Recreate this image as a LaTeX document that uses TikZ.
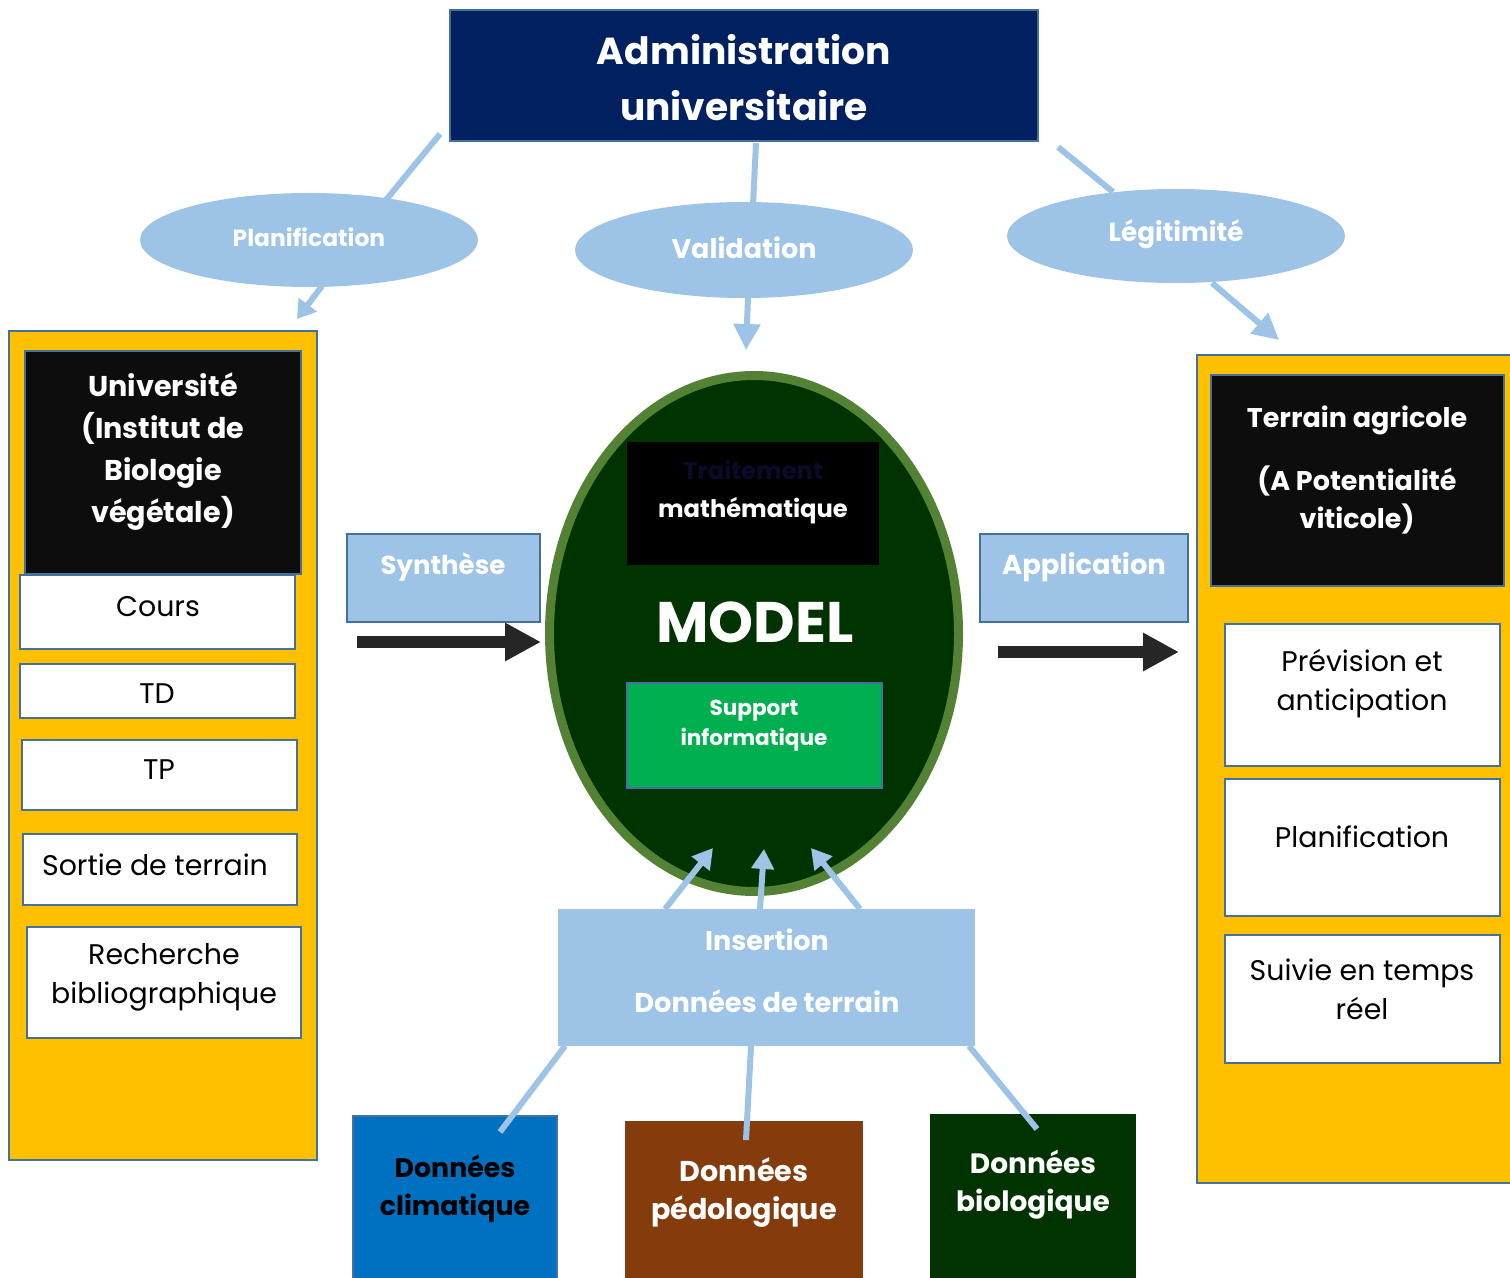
\documentclass[tikz,border=0pt]{standalone}
\usepackage{fontspec}
\setmainfont{Poppins}
\usetikzlibrary{arrows.meta,shapes.geometric}
\definecolor{adminblue}{HTML}{002060}
\definecolor{paleblue}{HTML}{9DC3E6}
\definecolor{framecol}{HTML}{41719C}
\definecolor{panelyel}{HTML}{FFC000}
\definecolor{deepgreen}{HTML}{003300}
\definecolor{ringgreen}{HTML}{548235}
\definecolor{suppgreen}{HTML}{00B050}
\definecolor{climblue}{HTML}{0070C0}
\definecolor{pedobrown}{HTML}{843C0C}
\definecolor{nearblack}{HTML}{0D0D0D}
\definecolor{arrowgrey}{HTML}{262626}
\definecolor{hiddennavy}{HTML}{0A0A2A}
\begin{document}
\begin{tikzpicture}[x=0.5pt,y=0.5pt,yscale=-1,
	sized/.style 2 args={minimum width=#1*0.5pt,minimum height=#2*0.5pt,inner sep=0pt},
	rbox/.style={rectangle,draw=framecol,line width=1pt},
	oval/.style={ellipse,fill=paleblue,inner sep=0pt},
	wbold/.style={text=white,font=\bfseries\fontsize{#1}{#1}\selectfont,align=center,inner sep=0pt},
	plain/.style={text=black,font=\fontsize{14.2}{19.5}\selectfont,align=center,inner sep=0pt},
	link/.style={draw=paleblue,line width=3pt},
	linkarrow/.style={link,-{Triangle[width=13pt,length=13pt]}},
	bigarrow/.style={draw=arrowgrey,line width=6pt,-{Triangle[width=18pt,length=18pt]}}]
	\useasboundingbox (0,0) rectangle (1510,1278);

	%Shape: Rectangle [id:admin]
	\node[rbox,fill=adminblue,sized={588}{131}] (admin) at (744,75.5) {};
	% Text Node
	\node[wbold=18.8,font=\bfseries\fontsize{18.8}{28}\selectfont] (admintxt) at (744,78) {Administration\\universitaire};

	%Straight Lines [id:top links]
	\coordinate (pl-a) at (440,134);
	\coordinate (pl-b) at (386,200);
	\coordinate (va-a) at (756,143);
	\coordinate (va-b) at (753,205);
	\coordinate (le-a) at (1058,147);
	\coordinate (le-b) at (1113,192);
	\draw[link] (pl-a) -- (pl-b);
	\draw[link] (va-a) -- (va-b);
	\draw[link] (le-a) -- (le-b);

	%Shape: Ellipse [id:plan]
	\node[oval,sized={338}{94}] (plan) at (309,240) {};
	%Shape: Ellipse [id:valid]
	\node[oval,sized={338}{96}] (valid) at (744,250) {};
	%Shape: Ellipse [id:legit]
	\node[oval,sized={338}{94}] (legit) at (1176,236) {};
	% Text Node
	\node[wbold=11.7] (plantxt) at (309,237) {Planification};
	% Text Node
	\node[wbold=13.5] (validtxt) at (744,248) {Validation};
	% Text Node
	\node[wbold=13.1] (legittxt) at (1176,234) {Légitimité};

	%Shape: Rectangle [id:left panel]
	\node[rbox,fill=panelyel,sized={308}{829}] (leftpanel) at (163,745.5) {};
	\node[rbox,fill=nearblack,sized={276}{223}] (univ) at (163,462.5) {};
	\node[rbox,fill=white,sized={275}{74}] (cours) at (157.5,612) {};
	\node[rbox,fill=white,sized={275}{54}] (td) at (157.5,691) {};
	\node[rbox,fill=white,sized={275}{70}] (tp) at (159.5,775) {};
	\node[rbox,fill=white,sized={274}{71}] (sortie) at (160,869.5) {};
	\node[rbox,fill=white,sized={274}{111}] (biblio) at (164,982.5) {};
	% Text Node
	\node[wbold=14.3,font=\bfseries\fontsize{14.3}{21}\selectfont] (univtxt) at (163,452) {Université\\(Institut de\\Biologie\\végétale)};
	\node[plain] (courstxt) at (158,607) {Cours};
	\node[plain] (tdtxt) at (157,694) {TD};
	\node[plain] (tptxt) at (159,770) {TP};
	\node[plain] (sortietxt) at (155,865) {Sortie de terrain};
	\node[plain] (bibliotxt) at (164,977) {Recherche\\bibliographique};

	%Shape: Rectangle [id:right panel]
	\node[rbox,fill=panelyel,sized={315}{828}] (rightpanel) at (1354.5,769) {};
	\node[rbox,fill=nearblack,sized={293}{211}] (terrain) at (1357.5,480.5) {};
	\node[rbox,fill=white,sized={275}{142}] (prev) at (1362.5,695) {};
	\node[rbox,fill=white,sized={275}{137}] (planif) at (1362.5,847.5) {};
	\node[rbox,fill=white,sized={275}{128}] (suivie) at (1362.5,999) {};
	% Text Node
	\node[wbold=13.5] (terraintxt) at (1357,420) {Terrain agricole};
	\node[wbold=13.5,font=\bfseries\fontsize{13.5}{19}\selectfont] (potenttxt) at (1357,500) {(A Potentialité\\viticole)};
	\node[plain] (prevtxt) at (1362,684) {Prévision et\\anticipation};
	\node[plain] (planiftxt) at (1362,837) {Planification};
	\node[plain] (suivietxt) at (1362,989) {Suivie en temps\\réel};

	%Straight Lines [id:arrows to panels]
	\coordinate (pl-c) at (322,286);
	\coordinate (pl-d) at (297,319);
	\coordinate (va-c) at (748,297);
	\coordinate (va-d) at (746,350);
	\coordinate (le-c) at (1212,283);
	\coordinate (le-d) at (1279,340);
	\draw[linkarrow,-{Triangle[width=11pt,length=9pt]}] (pl-c) -- (pl-d);
	\draw[linkarrow] (va-c) -- (va-d);
	\draw[linkarrow] (le-c) -- (le-d);

	%Shape: Rectangle [id:synth, applic]
	\node[rbox,fill=paleblue,sized={193}{88}] (synth) at (443.5,578) {};
	\node[rbox,fill=paleblue,sized={208}{88}] (applic) at (1084,578) {};
	\node[wbold=13] (synthtxt) at (443,567) {Synthèse};
	\node[wbold=13.7] (applictxt) at (1084,567) {Application};
	\coordinate (sy-a) at (357,642);
	\coordinate (sy-b) at (541,642);
	\coordinate (ap-a) at (998,652);
	\coordinate (ap-b) at (1179,652);
	\draw[bigarrow] (sy-a) -- (sy-b);
	\draw[bigarrow] (ap-a) -- (ap-b);

	%Shape: Ellipse [id:model]
	\node[ellipse,draw=ringgreen,line width=4.5pt,fill=deepgreen,sized={409}{516}] (model) at (754,633.5) {};
	\node[rectangle,fill=black,sized={252}{123}] (mathbox) at (753,503.5) {};
	\node[rectangle,draw=framecol,line width=1pt,fill=suppgreen,sized={255}{105}] (suppbox) at (754.5,735.5) {};
	% Text Node
	\node[wbold=12.1,text=hiddennavy] (traittxt) at (753,470) {Traitement};
	\node[wbold=12.1] (mathtxt) at (753,511) {mathématique};
	\node[wbold=28.6] (modeltxt) at (755,622) {MODEL};
	\node[wbold=10.8,font=\bfseries\fontsize{10.8}{15}\selectfont] (supptxt) at (754,726) {Support\\informatique};

	%Shape: Rectangle [id:insertion]
	\node[rectangle,fill=paleblue,sized={417}{137}] (insert) at (766.5,977.5) {};
	\node[wbold=13.5] (inserttxt) at (767,940) {Insertion};
	\node[wbold=13.6] (terraindata) at (767,1001) {Données de terrain};
	\coordinate (in-a) at (665,909);
	\coordinate (in-b) at (713,848);
	\coordinate (in-c) at (760,909);
	\coordinate (in-d) at (764,849);
	\coordinate (in-e) at (860,909);
	\coordinate (in-f) at (811,848);
	\draw[linkarrow,-{Triangle[width=11pt,length=10pt]}] (in-a) -- (in-b);
	\draw[linkarrow,-{Triangle[width=11pt,length=10pt]}] (in-c) -- (in-d);
	\draw[linkarrow,-{Triangle[width=11pt,length=10pt]}] (in-e) -- (in-f);

	%Shape: Rectangle [id:data boxes]
	\node[rbox,fill=climblue,sized={204}{174}] (clim) at (455,1203) {};
	\node[rectangle,fill=pedobrown,sized={238}{169}] (pedo) at (744,1205.5) {};
	\node[rectangle,fill=deepgreen,sized={206}{176}] (bio) at (1033,1202) {};
	\node[wbold=13.4,text=black,font=\bfseries\fontsize{13.4}{19}\selectfont] (climtxt) at (455,1189) {Données\\climatique};
	\node[wbold=14.3,font=\bfseries\fontsize{14.3}{19}\selectfont] (pedotxt) at (744,1192) {Données\\pédologique};
	\node[wbold=14,font=\bfseries\fontsize{14}{19}\selectfont] (biotxt) at (1033,1185) {Données\\biologique};
	\coordinate (da-a) at (565,1046);
	\coordinate (da-b) at (500,1132);
	\coordinate (da-c) at (751,1046);
	\coordinate (da-d) at (746,1140);
	\coordinate (da-e) at (969,1046);
	\coordinate (da-f) at (1037,1129);
	\draw[link] (da-a) -- (da-b);
	\draw[link] (da-c) -- (da-d);
	\draw[link] (da-e) -- (da-f);

\end{tikzpicture}
\end{document}
